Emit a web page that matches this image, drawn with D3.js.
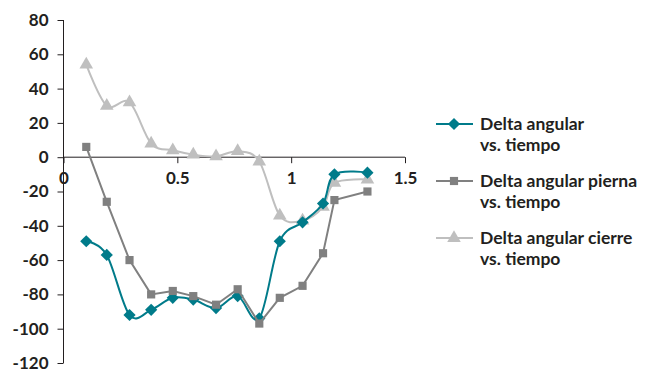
<!DOCTYPE html>
<html>
<head>
<meta charset="utf-8">
<script src="https://cdn.jsdelivr.net/npm/d3@7"></script>
<style>
  html, body { margin: 0; padding: 0; background: #fff; }
  svg { display: block; }
  text { font-family: Lato, "Open Sans", sans-serif; font-weight: 700; fill: #231f20; }
</style>
</head>
<body>
<svg id="chart" width="648" height="369"></svg>
<script>
// Tiempo (s) de cada muestra
const tiempo = [0.1, 0.19, 0.29, 0.385, 0.48, 0.57, 0.67, 0.765, 0.86, 0.95, 1.05, 1.14, 1.19, 1.335];

// Series de delta angular (grados)
const deltaAngular       = [-49, -57, -92, -89, -82, -83, -88, -81, -94, -49, -38, -27, -10, -9];
const deltaAngularPierna = [6, -26, -60, -80, -78, -81, -86, -77, -97, -82, -75, -56, -25, -20];
const deltaAngularCierre = [54, 30, 32, 8, 4, 1.5, 0.5, 3.5, -2.5, -34, -37, -29, -15, -13];

const xTicks = [0, 0.5, 1, 1.5];
const yTicks = [80, 60, 40, 20, 0, -20, -40, -60, -80, -100, -120];

const seriesNames = [
  ["Delta angular", "vs. tiempo"],
  ["Delta angular pierna", "vs. tiempo"],
  ["Delta angular cierre", "vs. tiempo"]
];

const svg = d3.select("#chart");

const x = d3.scaleLinear().domain([0, 1.5]).range([63.5, 405]);
const y = d3.scaleLinear().domain([-120, 80]).range([363, 20]);

const axisColor = "#231f20";

// Eje Y
const yAxis = svg.append("g")
  .attr("transform", `translate(${x(0)},0)`)
  .call(d3.axisLeft(y).tickValues(yTicks).tickSize(6).tickPadding(9).tickFormat(d => String(d)));
yAxis.select(".domain").attr("stroke", axisColor).attr("d", `M0,${y(80)}V${y(-120)}`);
yAxis.selectAll(".tick line").attr("stroke", axisColor);
yAxis.selectAll(".tick text").attr("font-size", 17).attr("fill", axisColor)
  .attr("font-family", "Lato, sans-serif").attr("font-weight", 700);

// Eje X en y = 0
const xAxis = svg.append("g")
  .attr("transform", `translate(0,${y(0)})`)
  .call(d3.axisBottom(x).tickValues(xTicks).tickSize(6).tickPadding(9).tickFormat(d => String(d)));
xAxis.select(".domain").attr("stroke", axisColor).attr("d", `M${x(0)},0H${x(1.5)}`);
xAxis.selectAll(".tick line").attr("stroke", axisColor);
xAxis.selectAll(".tick text").attr("font-size", 17).attr("fill", axisColor)
  .attr("font-family", "Lato, sans-serif").attr("font-weight", 700);

const series = [
  { values: deltaAngularCierre, color: "#bfbfbf", curve: d3.curveCardinal.tension(0), symbol: d3.symbolTriangle, size: 80, legend: 2 },
  { values: deltaAngular,       color: "#007b8a", curve: d3.curveCardinal.tension(0), symbol: d3.symbolDiamond2, size: 95, legend: 0 },
  { values: deltaAngularPierna, color: "#808080", curve: d3.curveLinear,            symbol: d3.symbolSquare2, size: 85, legend: 1 }
];

series.forEach(s => {
  const pts = tiempo.map((t, i) => [t, s.values[i]]);
  const line = d3.line().x(d => x(d[0])).y(d => y(d[1])).curve(s.curve);
  const g = svg.append("g");
  g.append("path").attr("d", line(pts)).attr("fill", "none")
    .attr("stroke", s.color).attr("stroke-width", 2);
  g.selectAll("path.mk").data(pts).join("path").attr("class", "mk")
    .attr("transform", d => `translate(${x(d[0])},${y(d[1])})`)
    .attr("d", d3.symbol(s.symbol, s.size)())
    .attr("fill", s.color).attr("stroke", "none");
});

// Leyenda
const legendRows = [124, 181, 238];
const legendOrder = [series[1], series[2], series[0]];
legendOrder.forEach((s, i) => {
  const cy = legendRows[i];
  const g = svg.append("g");
  g.append("line").attr("x1", 436).attr("x2", 473).attr("y1", cy).attr("y2", cy)
    .attr("stroke", s.color).attr("stroke-width", 2);
  g.append("path").attr("transform", `translate(454,${cy})`)
    .attr("d", d3.symbol(s.symbol, s.size)()).attr("fill", s.color);
  const lines = seriesNames[s.legend];
  g.append("text").attr("x", 480).attr("y", cy + 6).attr("font-size", 17.5).text(lines[0]);
  g.append("text").attr("x", 480).attr("y", cy + 27).attr("font-size", 17.5).text(lines[1]);
});
</script>
</body>
</html>
